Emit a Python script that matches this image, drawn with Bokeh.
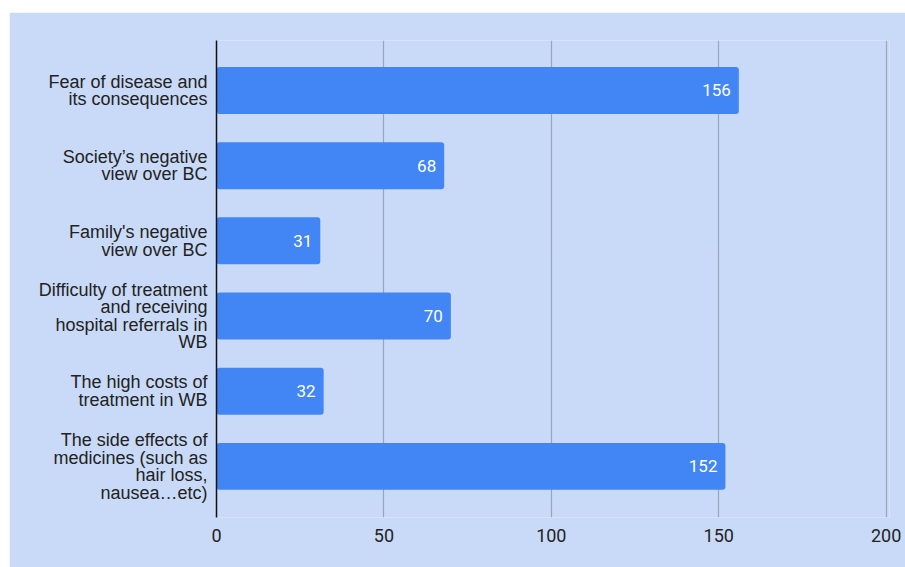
from bokeh.plotting import figure
from bokeh.models import ColumnDataSource, Range1d, FixedTicker
from bokeh.core.properties import value
from bokeh.embed import file_html
from bokeh.resources import INLINE

categories = [
    "Fear of disease and\nits consequences",
    "Society\u2019s negative\nview over BC",
    "Family's negative\nview over BC",
    "Difficulty of treatment\nand receiving\nhospital referrals in\nWB",
    "The high costs of\ntreatment in WB",
    "The side effects of\nmedicines (such as\nhair loss,\nnausea\u2026etc)",
]
counts = [156, 68, 31, 70, 32, 152]
x_ticks = [0, 50, 100, 150, 200]

BG = "#c9daf8"
BAR = "#4285f4"

pos = list(range(len(categories)))
src = ColumnDataSource(dict(y=pos, v=counts, lbl=[str(c) for c in counts]))

p = figure(width=896, height=555, output_backend="svg", toolbar_location=None,
           x_range=Range1d(0, 201), y_range=Range1d(5.68, -0.665),
           background_fill_color=BG, border_fill_color=BG,
           outline_line_color=None, margin=(12, 0, 0, 9),
           min_border_left=207, min_border_right=16, min_border_top=28,
           min_border_bottom=50)

p.hbar(y="y", right="v", left=0, height=0.625, source=src,
       fill_color=BAR, line_color=None, border_radius=3)

p.text(x="v", y="y", text="lbl", source=src, x_offset=-8,
       text_align="right", text_baseline="middle", text_color="white",
       text_font=value("Roboto"), text_font_size="17px")

p.yaxis.ticker = FixedTicker(ticks=pos)
p.yaxis.major_label_overrides = {i: c for i, c in zip(pos, categories)}
p.yaxis.major_tick_line_color = None
p.yaxis.minor_tick_line_color = None
p.yaxis.axis_line_color = "#111111"
p.yaxis.axis_line_width = 1.5
p.yaxis.major_label_standoff = 3
p.yaxis.major_label_text_font = "Liberation Sans"
p.yaxis.major_label_text_font_size = "18px"
p.yaxis.major_label_text_line_height = 0.88
p.yaxis.major_label_text_color = "#222222"
p.yaxis.major_label_text_align = "right"

p.ygrid.grid_line_color = None
p.xaxis.ticker = FixedTicker(ticks=x_ticks)
p.xgrid.ticker = FixedTicker(ticks=x_ticks[1:])
p.xgrid.grid_line_color = "#97a6bd"
p.xgrid.grid_line_width = 1.2
p.xaxis.axis_line_color = None
p.xaxis.major_tick_line_color = None
p.xaxis.minor_tick_line_color = None
p.xaxis.major_label_standoff = 5
p.xaxis.major_label_text_font = "Roboto"
p.xaxis.major_label_text_font_size = "18px"
p.xaxis.major_label_text_color = "#222222"

open("out.html", "w").write(file_html(p, INLINE))
